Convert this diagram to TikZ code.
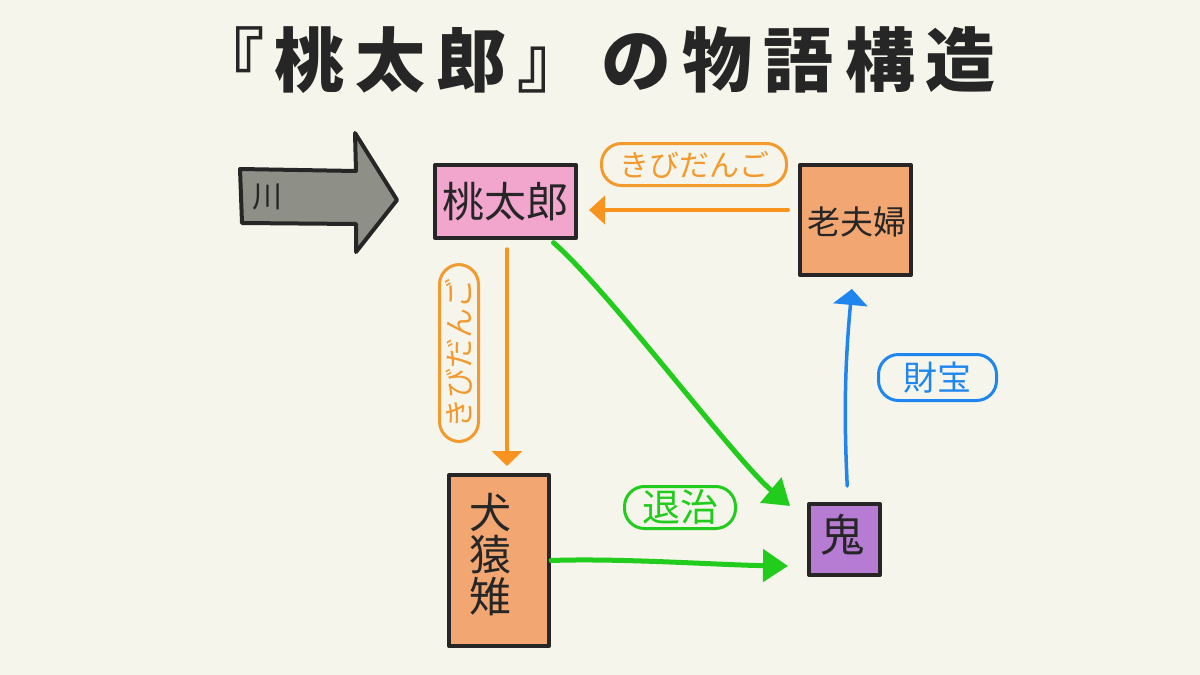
\documentclass[tikz,border=0pt]{standalone}
\usepackage{fontspec}
\newfontfamily\cjk{Noto Sans CJK JP}
\usetikzlibrary{arrows.meta,calc}
\definecolor{bg}{HTML}{F5F5EB}
\definecolor{ink}{HTML}{262626}
\definecolor{orgline}{HTML}{F7931E}
\definecolor{orglabel}{HTML}{F39A2E}
\definecolor{grn}{HTML}{22CC1C}
\definecolor{blu}{HTML}{1E86EE}
\definecolor{boxorange}{HTML}{F2A672}
\definecolor{boxpink}{HTML}{F2A6CE}
\definecolor{boxpurple}{HTML}{B67BD2}
\definecolor{rivergray}{HTML}{8E8F86}
\newcommand\tsp{\hspace{11pt}}
\begin{document}
\begin{tikzpicture}[x=1pt,y=-1pt,
  box/.style={draw=ink, line width=4pt, line join=round, inner sep=0pt, text=ink},
  boxtext/.style={font=\cjk\fontsize{#1}{#1}\selectfont, text=ink, inner sep=0pt},
  lbl/.style={draw=#1, text=#1, line width=3pt, rounded corners=20pt, inner sep=0pt},
  conn/.style={line width=#1, line cap=round},
]
\fill[bg] (0,0) rectangle (1200,675);
\useasboundingbox (0,0) rectangle (1200,675);

% title
\node[text=ink, inner sep=0pt] (title) at (595,60)
  {\cjk\bfseries\fontsize{70}{70}\selectfont 『\tsp 桃\tsp 太\tsp 郎\tsp 』\hspace{14pt}の\tsp 物\tsp 語\tsp 構\tsp 造};

% river arrow
\draw[draw=ink, fill=rivergray, line width=4pt, line join=round]
  (240,169) -- (356,171) -- (355,133) -- (397,200) -- (356,252) -- (356,224) -- (242,223) -- cycle;
\node[boxtext=30] (river) at (267,197) {川};

% boxes
\node[box, fill=boxpink, minimum width=141pt, minimum height=73pt, boxtext=42] (momo) at (505.5,201.5) {桃太郎};
\node[box, fill=boxorange, minimum width=111pt, minimum height=110pt] (elders) at (855.5,220) {};
\node[boxtext=33] (elderstext) at (857,222) {老夫婦};
\node[box, fill=boxorange, minimum width=100pt, minimum height=171pt] (dogs) at (499,560.5) {};
\node[boxtext=42, align=center] (dogstext) at (490,555)
  {\fontsize{42}{57}\selectfont 犬\\猿\\雉};
\node[box, fill=boxpurple, minimum width=71pt, minimum height=71pt] (oni) at (844.5,539.5) {};
\node[boxtext=44] (onitext) at (842,535) {鬼};

% labels
\node[lbl=orglabel, minimum width=185pt, minimum height=42pt, font=\cjk\fontsize{30}{30}\selectfont] (kibi1) at (694,164.5) {きびだんご};
\node[lbl=orglabel, rotate=90, minimum width=177pt, minimum height=39pt, font=\cjk\fontsize{30}{30}\selectfont] (kibi2) at (459,353) {きびだんご};
\node[lbl=grn, minimum width=111pt, minimum height=42pt, font=\cjk\fontsize{38}{38}\selectfont] (taiji) at (680,507.5) {退治};
\node[lbl=blu, minimum width=118pt, minimum height=46pt, font=\cjk\fontsize{34}{34}\selectfont] (zaiho) at (937.5,377.5) {財宝};

% connectors
\draw[conn=4pt, orgline, -{Triangle[length=16pt,width=28pt]}, shorten <=10pt, shorten >=11pt]
  ([yshift=10pt]elders.west) -- ([yshift=10pt]elders.west -| momo.east);
\draw[conn=3.5pt, orgline, -{Triangle[length=15pt,width=30pt]}, shorten <=9pt, shorten >=7pt]
  ([xshift=1.5pt]momo.south) -- ([xshift=1.5pt]momo.south |- dogs.north);
\coordinate (g1end) at ([xshift=-17pt,yshift=-4pt]oni.north west);
\draw[conn=5pt, grn, -{Triangle[length=25pt,width=32pt]}, shorten <=4pt]
  ([xshift=45pt]momo.south) .. controls (610,292) and (735,460) .. (g1end);
\coordinate (g2end) at ([xshift=-19pt,yshift=-26.5pt]oni.west);
\draw[conn=5pt, grn, -{Triangle[length=25pt,width=32pt]}]
  (dogs.east) .. controls (620,558) and (720,565) .. (g2end);
\draw[conn=3.5pt, blu, -{Triangle[length=16pt,width=34pt]}, shorten <=16pt, shorten >=12pt]
  ([xshift=3.5pt]oni.north) to[bend left=4] ([xshift=-2.5pt]elders.south);
\end{tikzpicture}
\end{document}
